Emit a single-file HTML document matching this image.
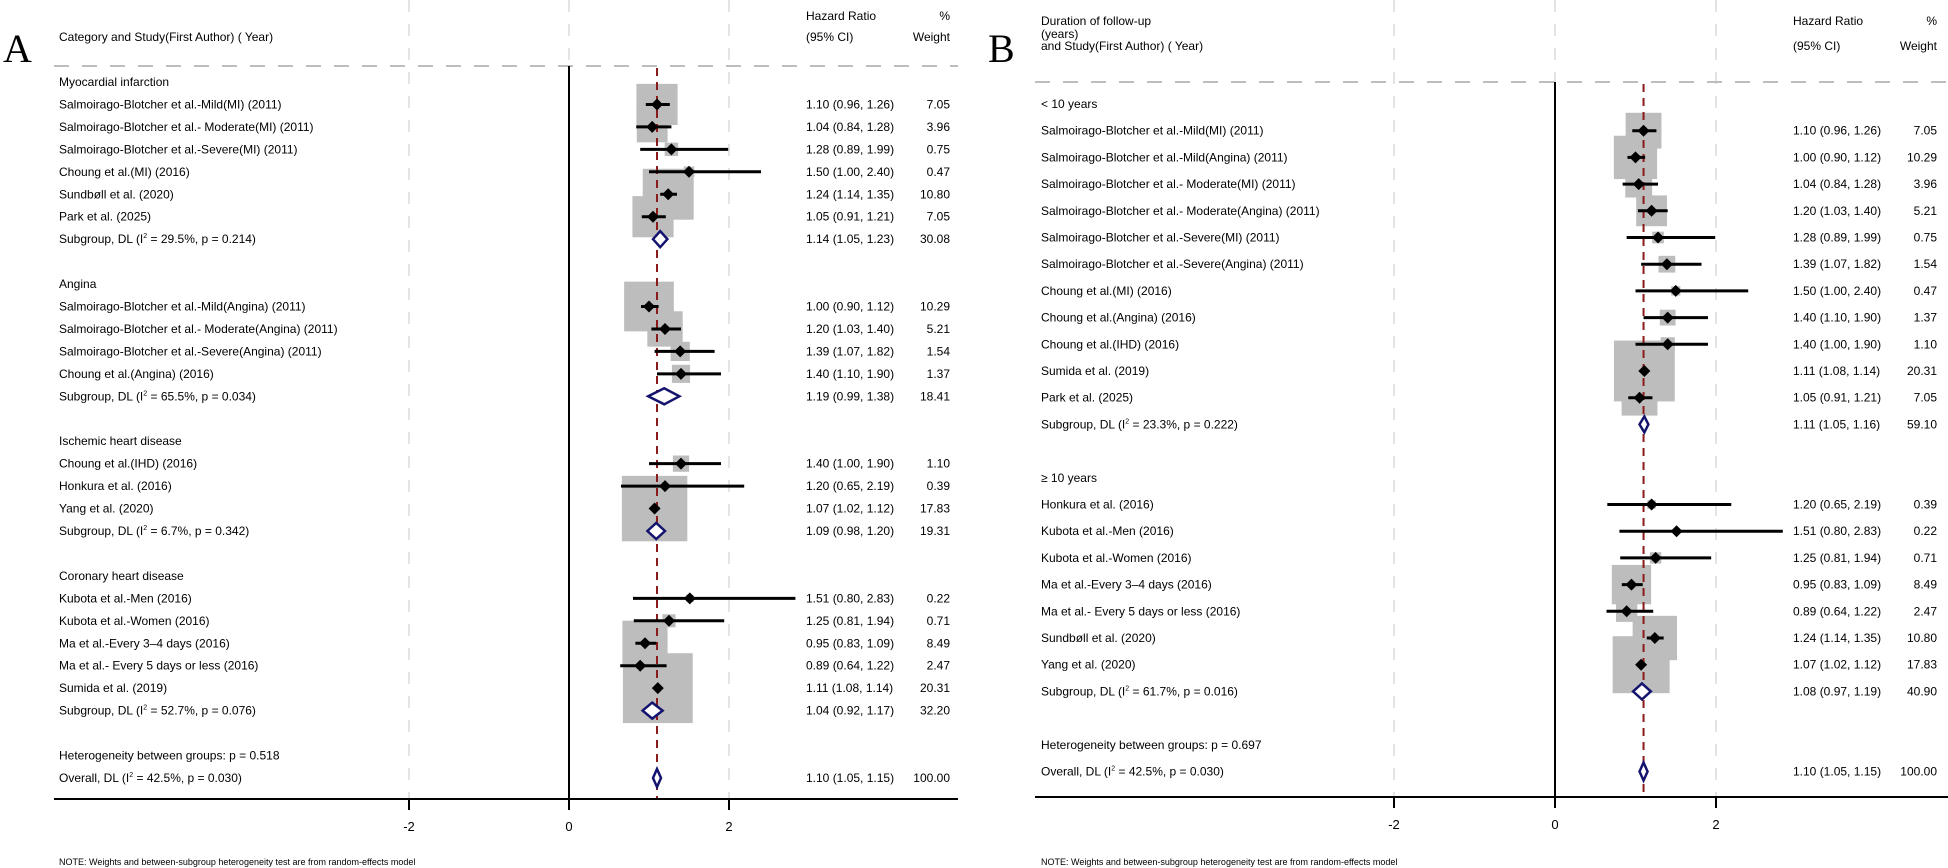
<!DOCTYPE html>
<html><head><meta charset="utf-8">
<style>
html,body{margin:0;padding:0;background:#fff;}
svg{display:block;font-family:"Liberation Sans",Arial,sans-serif;}
</style></head>
<body>
<svg id="chart" width="1948" height="868" viewBox="0 0 1948 868" xmlns="http://www.w3.org/2000/svg"></svg>
<script>
// ---------- Panel A data ----------
const aKinds = ["head","study","study","study","study","study","study","sub","blank","head","study","study","study","study","sub","blank","head","study","study","study","sub","blank","head","study","study","study","study","study","sub","blank","het","overall"];
const aLabels = ["Myocardial infarction","Salmoirago-Blotcher et al.-Mild(MI) (2011)","Salmoirago-Blotcher et al.- Moderate(MI) (2011)","Salmoirago-Blotcher et al.-Severe(MI) (2011)","Choung et al.(MI) (2016)","Sundbøll et al. (2020)","Park  et al. (2025)","29.5%, p = 0.214)","",
"Angina","Salmoirago-Blotcher et al.-Mild(Angina) (2011)","Salmoirago-Blotcher et al.- Moderate(Angina) (2011)","Salmoirago-Blotcher et al.-Severe(Angina) (2011)","Choung et al.(Angina) (2016)","65.5%, p = 0.034)","",
"Ischemic heart disease","Choung et al.(IHD) (2016)","Honkura et al. (2016)","Yang et al. (2020)","6.7%, p = 0.342)","",
"Coronary heart disease","Kubota et al.-Men (2016)","Kubota et al.-Women (2016)","Ma et al.-Every 3–4 days (2016)","Ma et al.- Every 5 days or less (2016)","Sumida et al. (2019)","52.7%, p = 0.076)","",
"Heterogeneity between groups: p = 0.518","42.5%, p = 0.030)"];
const aEst = [null,1.10,1.04,1.28,1.50,1.24,1.05,1.14,null,null,1.00,1.20,1.39,1.40,1.19,null,null,1.40,1.20,1.07,1.09,null,null,1.51,1.25,0.95,0.89,1.11,1.04,null,null,1.10];
const aLo = [null,0.96,0.84,0.89,1.00,1.14,0.91,1.05,null,null,0.90,1.03,1.07,1.10,0.99,null,null,1.00,0.65,1.02,0.98,null,null,0.80,0.81,0.83,0.64,1.08,0.92,null,null,1.05];
const aHi = [null,1.26,1.28,1.99,2.40,1.35,1.21,1.23,null,null,1.12,1.40,1.82,1.90,1.38,null,null,1.90,2.19,1.12,1.20,null,null,2.83,1.94,1.09,1.22,1.14,1.17,null,null,1.15];
const aWeight = [null,7.05,3.96,0.75,0.47,10.80,7.05,30.08,null,null,10.29,5.21,1.54,1.37,18.41,null,null,1.10,0.39,17.83,19.31,null,null,0.22,0.71,8.49,2.47,20.31,32.20,null,null,100.00];

// ---------- Panel B data ----------
const bKinds = ["head","study","study","study","study","study","study","study","study","study","study","study","sub","blank","head","study","study","study","study","study","study","study","sub","blank","het","overall"];
const bLabels = ["<  10 years","Salmoirago-Blotcher et al.-Mild(MI) (2011)","Salmoirago-Blotcher et al.-Mild(Angina) (2011)","Salmoirago-Blotcher et al.- Moderate(MI) (2011)","Salmoirago-Blotcher et al.- Moderate(Angina) (2011)","Salmoirago-Blotcher et al.-Severe(MI) (2011)","Salmoirago-Blotcher et al.-Severe(Angina) (2011)","Choung et al.(MI) (2016)","Choung et al.(Angina) (2016)","Choung et al.(IHD) (2016)","Sumida et al. (2019)","Park  et al. (2025)","23.3%, p = 0.222)","",
"≥ 10 years","Honkura et al. (2016)","Kubota et al.-Men (2016)","Kubota et al.-Women (2016)","Ma et al.-Every 3–4 days (2016)","Ma et al.- Every 5 days or less (2016)","Sundbøll et al. (2020)","Yang et al. (2020)","61.7%, p = 0.016)","",
"Heterogeneity between groups: p = 0.697","42.5%, p = 0.030)"];
const bEst = [null,1.10,1.00,1.04,1.20,1.28,1.39,1.50,1.40,1.40,1.11,1.05,1.11,null,null,1.20,1.51,1.25,0.95,0.89,1.24,1.07,1.08,null,null,1.10];
const bLo = [null,0.96,0.90,0.84,1.03,0.89,1.07,1.00,1.10,1.00,1.08,0.91,1.05,null,null,0.65,0.80,0.81,0.83,0.64,1.14,1.02,0.97,null,null,1.05];
const bHi = [null,1.26,1.12,1.28,1.40,1.99,1.82,2.40,1.90,1.90,1.14,1.21,1.16,null,null,2.19,2.83,1.94,1.09,1.22,1.35,1.12,1.19,null,null,1.15];
const bWeight = [null,7.05,10.29,3.96,5.21,0.75,1.54,0.47,1.37,1.10,20.31,7.05,59.10,null,null,0.39,0.22,0.71,8.49,2.47,10.80,17.83,40.90,null,null,100.00];

const ticks = [-2,0,2];
const overallHR = 1.10;

const NS = "http://www.w3.org/2000/svg";
const svg = document.getElementById("chart");
function mk(tag, attrs, parent){
  const e = document.createElementNS(NS, tag);
  for (const k in attrs) e.setAttribute(k, attrs[k]);
  (parent||svg).appendChild(e);
  return e;
}
function fmt(v){return v.toFixed(2);}

function panel(cfg){
  const g = mk("g",{});
  
  
  const xs = v => cfg.x0 + v*cfg.unit;
  const ys = i => cfg.yFirst + i*cfg.pitch;
  // letter
  const L = mk("text",{x:cfg.letterX,y:62,"font-family":"Liberation Serif,serif","font-size":40,fill:"#000"},g);
  L.textContent = cfg.letter;
  
  
  // gridlines (light dashed)
  ticks.forEach(t=>{
    const gl = mk("line",{x1:xs(t),x2:xs(t),y1:0,y2:t===0?cfg.headLineY:cfg.axisY,stroke:"#e3e3e3","stroke-width":2,"stroke-dasharray":"12 12"},g);
    
    
  });
  // header
  cfg.headLines.forEach((t,i)=>{
    const h = mk("text",{x:cfg.textX,y:cfg.headY[i],"font-size":12,fill:"#000"},g);
    h.textContent = t;
    
    
  });
  const h1 = mk("text",{x:cfg.hrX,y:cfg.hrY1,"font-size":12},g); h1.textContent="Hazard Ratio";
  
  
  const h2 = mk("text",{x:cfg.hrX,y:cfg.hrY2,"font-size":12},g); h2.textContent="(95% CI)";
  
  
  const h3 = mk("text",{x:cfg.wX,y:cfg.hrY1,"font-size":12,"text-anchor":"end"},g); h3.textContent="%";
  
  
  const h4 = mk("text",{x:cfg.wX,y:cfg.hrY2,"font-size":12,"text-anchor":"end"},g); h4.textContent="Weight";
  
  
  const hl = mk("line",{x1:cfg.lineL,x2:cfg.lineR,y1:cfg.headLineY,y2:cfg.headLineY,stroke:"#bdbdbd","stroke-width":2,"stroke-dasharray":"15 13"},g);
  
  
  // weight boxes
  cfg.kinds.forEach((k,i)=>{
    if(k!=="study") return;
    const s = cfg.boxC*Math.sqrt(cfg.weight[i]);
    const b = mk("rect",{x:xs(cfg.est[i])-s/2,y:ys(i)-s/2,width:s,height:s,fill:"#bdbdbd"},g);
    
    
  });
  // null line
  const nl = mk("line",{x1:xs(0),x2:xs(0),y1:cfg.headLineY,y2:cfg.axisY,stroke:"#000","stroke-width":2},g);
  
  
  // overall dashed line
  const ol = mk("line",{x1:xs(overallHR),x2:xs(overallHR),y1:cfg.headLineY+2,y2:cfg.axisY,stroke:"#8b1a1a","stroke-width":2,"stroke-dasharray":"8 6"},g);
  
  
  // rows
  cfg.kinds.forEach((k,i)=>{
    if(k==="blank") return;
    const y = ys(i);
    const t = mk("text",{x:cfg.textX,y:y+4,"font-size":12,fill:"#000"},g);
    if(k==="sub"||k==="overall"){
      t.appendChild(document.createTextNode(k==="sub"?"Subgroup, DL (I":"Overall, DL (I"));
      const sp = mk("tspan",{"font-size":7,dy:-5},t); sp.textContent="2";
      const rest = mk("tspan",{dy:5},t); rest.textContent=" = "+cfg.labels[i];
    } else t.textContent = cfg.labels[i];
    
    
    if(k==="head"||k==="het") return;
    const e=cfg.est[i], lo=cfg.lo[i], hi=cfg.hi[i];
    if(k==="study"){
      const ci = mk("line",{x1:xs(lo),x2:xs(hi),y1:y,y2:y,stroke:"#000","stroke-width":3},g);
      
      
      const d=6, cx=xs(e);
      const p = mk("polygon",{points:`${cx-d},${y} ${cx},${y-d} ${cx+d},${y} ${cx},${y+d}`,fill:"#000"},g);
      
      
    } else {
      const h = k==="sub"?8:9;
      const dm = mk("polygon",{points:`${xs(lo)},${y} ${xs(e)},${y-h} ${xs(hi)},${y} ${xs(e)},${y+h}`,fill:"#fff",stroke:"#14146e","stroke-width":2.5},g);
      
      
    }
    const ht = mk("text",{x:cfg.hrX,y:y+4,"font-size":12},g);
    ht.textContent = `${fmt(e)} (${fmt(lo)}, ${fmt(hi)})`;
    
    
    const wt = mk("text",{x:cfg.wX,y:y+4,"font-size":12,"text-anchor":"end"},g);
    wt.textContent = fmt(cfg.weight[i]);
    
    
  });
  // axis
  const ax = mk("line",{x1:cfg.lineL,x2:cfg.lineR,y1:cfg.axisY,y2:cfg.axisY,stroke:"#000","stroke-width":2},g);
  
  
  ticks.forEach(t=>{
    const tk = mk("line",{x1:xs(t),x2:xs(t),y1:cfg.axisY,y2:cfg.axisY+11,stroke:"#000","stroke-width":2},g);
    
    
    const tl = mk("text",{x:xs(t),y:cfg.axisY+32,"font-size":13,"text-anchor":"middle"},g);
    tl.textContent = String(t);
    
    
  });
  const note = mk("text",{x:cfg.textX,y:865,"font-size":9},g);
  note.textContent = "NOTE: Weights and between-subgroup heterogeneity test are from random-effects model";
  
  
}

panel({name:"panel-a",letter:"A",letterX:3,x0:569,unit:80,yFirst:82,pitch:22.45,textX:59,
  headLines:["Category and Study(First Author) ( Year)"],headY:[41],hrX:806,hrY1:20,hrY2:41,wX:950,
  lineL:54,lineR:958,headLineY:66,axisY:799,boxC:15.5,
  kinds:aKinds,labels:aLabels,est:aEst,lo:aLo,hi:aHi,weight:aWeight});
panel({name:"panel-b",letter:"B",letterX:988,x0:1555,unit:80.5,yFirst:104,pitch:26.7,textX:1041,
  headLines:["Duration of follow-up","(years)","and Study(First Author) ( Year)"],headY:[25,38,50],hrX:1793,hrY1:25,hrY2:50,wX:1937,
  lineL:1035,lineR:1948,headLineY:82,axisY:797,boxC:13.5,
  kinds:bKinds,labels:bLabels,est:bEst,lo:bLo,hi:bHi,weight:bWeight});
</script>
</body></html>
